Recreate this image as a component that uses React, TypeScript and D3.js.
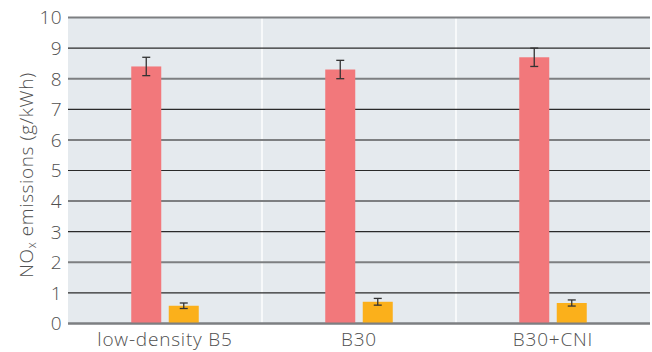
import React from "react";
import * as d3 from "d3";

const categories = ["low-density B5", "B30", "B30+CNI"];
const noxBaseline = [8.4, 8.3, 8.7];
const noxBaselineErr = [0.3, 0.3, 0.3];
const noxTreated = [0.58, 0.71, 0.67];
const noxTreatedErr = [0.09, 0.11, 0.1];
const yTicks = [0, 1, 2, 3, 4, 5, 6, 7, 8, 9, 10];

const W = 652;
const H = 352;
const margin = { left: 68, right: 2, top: 17.5, bottom: 28.5 };

export default function App() {
  const x = d3
    .scaleBand<string>()
    .domain(categories)
    .range([margin.left, W - margin.right]);
  const y = d3
    .scaleLinear()
    .domain([0, 10])
    .range([H - margin.bottom, margin.top]);

  const barW = 30;
  const gap = 7.5;
  const font = "'Open Sans', Lato, sans-serif";
  const textFill = "#4f4f4f";

  const series = [
    { values: noxBaseline, errs: noxBaselineErr, color: "#f2787b", offset: -gap / 2 - barW },
    { values: noxTreated, errs: noxTreatedErr, color: "#fbb01b", offset: gap / 2 },
  ];

  return (
    <svg
      width={W}
      height={H}
      style={{ position: "absolute", left: 0, top: 0, display: "block" }}
    >
      <rect
        x={margin.left}
        y={y(10)}
        width={W - margin.right - margin.left}
        height={y(0) - y(10)}
        fill="#e5eaee"
      />
      {categories.slice(1).map((c) => (
        <line
          key={"sep" + c}
          x1={x(c)!}
          x2={x(c)!}
          y1={y(10)}
          y2={y(0)}
          stroke="#f7f9fa"
          strokeWidth={2}
        />
      ))}
      {yTicks.map((t) => {
        const even = t % 2 === 0;
        return (
          <g key={"g" + t}>
            <line
              x1={margin.left}
              x2={W - margin.right}
              y1={y(t)}
              y2={y(t)}
              stroke={even ? "#7d7f81" : "#2a2a2a"}
              strokeWidth={even ? 2 : 1.2}
            />
            <text
              x={62}
              y={y(t)}
              dy="0.36em"
              textAnchor="end"
              fontFamily={font}
              fontWeight={300}
              fontSize={19}
              letterSpacing={0.4}
              fill={textFill}
            >
              {t}
            </text>
          </g>
        );
      })}
      {series.map((s, si) =>
        categories.map((c, i) => {
          const cx = x(c)! + x.bandwidth() / 2 + s.offset;
          const mid = cx + barW / 2;
          const v = s.values[i];
          const e = s.errs[i];
          return (
            <g key={`b${si}-${i}`}>
              <rect
                x={cx}
                y={y(v)}
                width={barW}
                height={y(0) - y(v)}
                fill={s.color}
              />
              <g stroke="#333" strokeWidth={1.3}>
                <line x1={mid} x2={mid} y1={y(v + e)} y2={y(v - e)} />
                <line x1={mid - 4} x2={mid + 4} y1={y(v + e)} y2={y(v + e)} />
                <line x1={mid - 4} x2={mid + 4} y1={y(v - e)} y2={y(v - e)} />
              </g>
            </g>
          );
        })
      )}
      <line
        x1={margin.left}
        x2={W - margin.right}
        y1={y(0)}
        y2={y(0)}
        stroke="#7d7f81"
        strokeWidth={2}
      />
      {categories.map((c) => (
        <text
          key={"xl" + c}
          x={x(c)! + x.bandwidth() / 2}
          y={346}
          textAnchor="middle"
          fontFamily={font}
          fontWeight={300}
          fontSize={19}
          letterSpacing={0.8}
          fill={textFill}
        >
          {c}
        </text>
      ))}
      <text
        transform={`translate(33, 175) rotate(-90)`}
        textAnchor="middle"
        fontFamily={font}
        fontWeight={300}
        fontSize={19}
        letterSpacing={0.6}
        fill={textFill}
      >
        NO
        <tspan fontSize={12} dy={3}>x</tspan>
        <tspan dy={-3}> emissions (g/kWh)</tspan>
      </text>
    </svg>
  );
}
